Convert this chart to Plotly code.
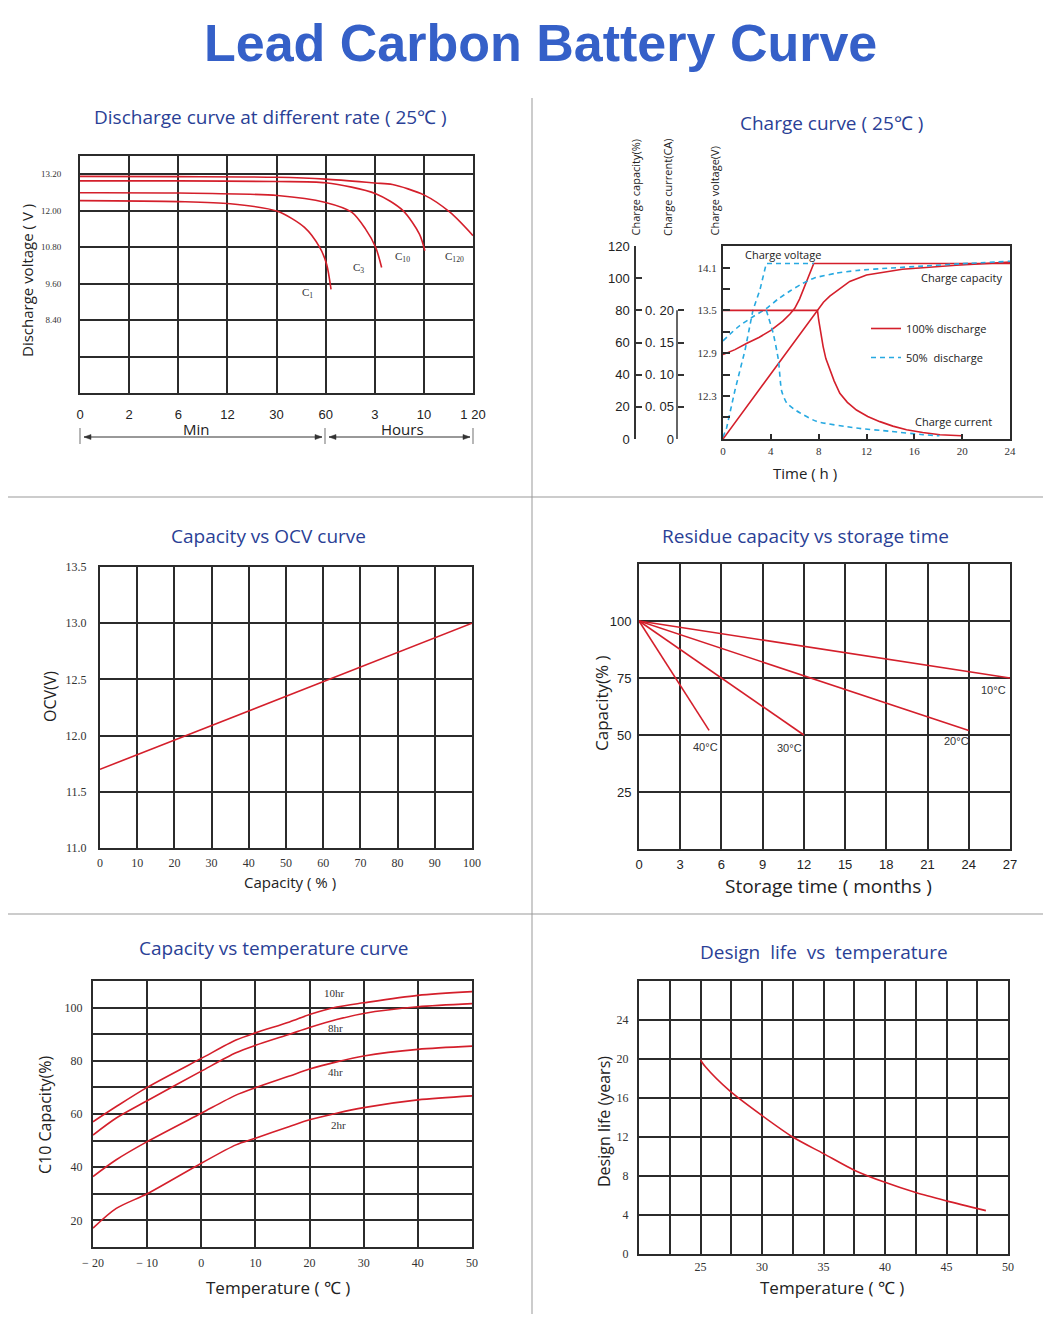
import plotly.graph_objects as go

# figure kept slightly smaller than the window; pixel positions map 1:1 from the top-left
W, H = 1044, 1315
def fx(x): return x / W
def fy(y): return 1 - y / H

RED = '#d41f2b'
BLUE = '#27a9e1'
GRID = '#2b2b2b'
NAVY = '#2a3f96'
SANS = 'Open Sans'
ARIAL = 'Liberation Sans'
SERIF = 'Liberation Serif'

# ---------------- Panel 1: discharge curves (x = category index) ----------------
p1_xlabels = ['0', '2', '6', '12', '30', '60', '3', '10', '1 20']
p1_yticks = [8.4, 9.6, 10.8, 12.0, 13.2]
p1_ylabels = ['8.40', '9.60', '10.80', '12.00', '13.20']
p1_ygrid_extra = [7.2]
c120_x = [0, 2, 4, 5, 6, 6.36, 7, 7.53, 8]
c120_y = [13.13, 13.12, 13.10, 13.04, 12.91, 12.86, 12.52, 11.95, 11.18]
c10_x = [0, 2, 4, 5, 6.02, 6.57, 6.91, 7.02]
c10_y = [12.98, 12.98, 12.96, 12.92, 12.56, 12.01, 11.23, 10.68]
c3_x = [0, 2, 4.02, 4.98, 5.53, 5.81, 6.02, 6.14]
c3_y = [12.59, 12.58, 12.50, 12.28, 11.95, 11.40, 10.79, 10.13]
c1_x = [0, 2, 3.06, 4.02, 4.57, 4.88, 5.02, 5.11]
c1_y = [12.33, 12.30, 12.23, 11.98, 11.45, 10.79, 10.24, 9.41]

# ---------------- Panel 2: charge curve ----------------
red_v_t = [0, 1, 2, 3, 4, 5, 5.6, 6.0, 6.4, 6.8, 7.2, 7.59, 24]
red_v = [12.88, 12.95, 13.04, 13.12, 13.22, 13.35, 13.45, 13.53, 13.66, 13.83, 14.0, 14.16, 14.16]
red_cap_t = [0, 7.9, 8.4, 8.93, 10.6, 12, 15, 19.5, 24]
red_cap = [0, 80, 85, 88.8, 98, 102, 105.5, 108, 110]
red_cur_t = [0, 7.9, 8.0, 8.15, 8.37, 8.6, 8.93, 9.3, 9.77, 10.4, 11.16, 12.1, 13.12, 14.2, 15.35, 16.7, 18.14, 19.95]
red_cur = [0.2, 0.2, 0.185, 0.165, 0.144, 0.125, 0.107, 0.09, 0.071, 0.057, 0.045, 0.035, 0.027, 0.02, 0.0144, 0.01, 0.0067, 0.005]
blue_v_t = [0, 0.3, 1.0, 1.84, 2.5, 3.09, 3.62, 7.6]
blue_v = [11.72, 11.85, 12.38, 12.94, 13.5, 13.79, 14.16, 14.16]
blue_cap_t = [0, 0.7, 1.4, 2.5, 3.6, 4.6, 5.6, 6.6, 7.6, 9.4, 11.2, 14, 16.7, 20, 24]
blue_cap = [61, 66, 70.5, 76, 81, 87, 92, 96.5, 100, 103, 104.8, 106.3, 107.5, 109, 110.5]
blue_cur_t = [3.62, 4.2, 4.63, 4.9, 5.33, 6.14, 7.81, 11.16, 13.95, 16.74, 18.1]
blue_cur = [0.2, 0.164, 0.123, 0.075, 0.056, 0.044, 0.0275, 0.017, 0.012, 0.0067, 0.005]
p2_xticks = [0, 4, 8, 12, 16, 20, 24]
p2_vticks = [12.3, 12.9, 13.5, 14.1]
p2_vminor = [12.0, 12.6, 13.2, 13.8]
p2_capticks = [0, 20, 40, 60, 80, 100, 120]
p2_curticks = [0, 0.05, 0.10, 0.15, 0.20]
p2_curlabels = ['0', '0. 05', '0. 10', '0. 15', '0. 20']

# ---------------- Panel 3: OCV ----------------
ocv_cap = [0, 100]
ocv_v = [11.7, 13.0]

# ---------------- Panel 4: residue capacity ----------------
r10_x, r10_y = [0, 27], [100, 75]
r20_x, r20_y = [0, 24], [100, 52]
r30_x, r30_y = [0, 12], [100, 50]
r40_x, r40_y = [0, 5.1], [100, 52]
p4_yticks = [25, 50, 75, 100]

# ---------------- Panel 5: capacity vs temperature ----------------
t5 = [-20, -15.7, -10, 0, 6.4, 10, 16.3, 20, 25, 30, 40, 50]
cap10 = [57.1, 62.8, 70, 80.9, 87.8, 90.5, 94.6, 97.4, 100.2, 101.8, 104.6, 106]
cap8 = [52.1, 58.5, 65, 76.1, 83, 85.8, 90, 92.5, 95.5, 97.8, 100.3, 101.5]
cap4 = [36.5, 42.8, 49.6, 60.3, 67.1, 69.9, 74.3, 76.9, 79.6, 81.8, 84.3, 85.5]
cap2 = [17.1, 24.5, 30, 41.5, 48.4, 50.9, 55.3, 57.8, 60.3, 62.4, 65.3, 66.8]
p5_xticks = [-20, -10, 0, 10, 20, 30, 40, 50]
p5_xlabels = ['\u2212 20', '\u2212 10', '0', '10', '20', '30', '40', '50']
p5_yticks = [20, 40, 60, 80, 100]
p5_yminor = [10, 30, 50, 70, 90, 110]

# ---------------- Panel 6: design life ----------------
t6 = [25.0, 25.4, 27.4, 30.0, 32.5, 35.0, 37.5, 40.0, 42.5, 45.0, 48.2]
life6 = [19.9, 19.2, 16.7, 14.2, 12.0, 10.3, 8.6, 7.35, 6.3, 5.45, 4.45]
p6_xticks = [25, 30, 35, 40, 45, 50]
p6_xminor = [22.5, 27.5, 32.5, 37.5, 42.5, 47.5]
p6_yticks = [0, 4, 8, 12, 16, 20, 24]

fig = go.Figure()

def line(x, y, xa, ya, color=RED, dash='solid', shape='spline', smoothing=0.7, name='', legend=False, group=None):
    fig.add_trace(go.Scatter(x=x, y=y, xaxis=xa, yaxis=ya, mode='lines',
                             line=dict(color=color, width=1.6, dash=dash, shape=shape,
                                       smoothing=smoothing if shape == 'spline' else None),
                             name=name, showlegend=legend, legendgroup=group, hoverinfo='skip'))

# panel 1
for xs, ys in [(c120_x, c120_y), (c10_x, c10_y), (c3_x, c3_y), (c1_x, c1_y)]:
    line(xs, ys, 'x', 'y', smoothing=0.8)

# panel 2
line(red_v_t, red_v, 'x2', 'y2', shape='linear', name='100% discharge', legend=True, group='a')
line(red_cap_t, red_cap, 'x2', 'y7', shape='linear', group='a')
line(red_cur_t, red_cur, 'x2', 'y8', shape='linear', group='a')
DASH = '5px,4px'
line(blue_v_t, blue_v, 'x2', 'y2', color=BLUE, dash=DASH, shape='linear', name='50%\u00a0 discharge', legend=True, group='b')
line(blue_cap_t, blue_cap, 'x2', 'y7', color=BLUE, dash=DASH, shape='spline', smoothing=0.6, group='b')
line(blue_cur_t, blue_cur, 'x2', 'y8', color=BLUE, dash=DASH, shape='spline', smoothing=0.6, group='b')

# panel 3
line(ocv_cap, ocv_v, 'x3', 'y3', shape='linear')
# panel 4
for xs, ys in [(r10_x, r10_y), (r20_x, r20_y), (r30_x, r30_y), (r40_x, r40_y)]:
    line(xs, ys, 'x4', 'y4', shape='linear')
# panel 5
for ys in [cap10, cap8, cap4, cap2]:
    line(t5, ys, 'x5', 'y5', smoothing=0.8)
# panel 6
line(t6, life6, 'x6', 'y6', smoothing=0.8)


def minor_grid(vals):
    return dict(tickmode='array', tickvals=vals, showgrid=True, gridcolor=GRID, gridwidth=1.6, ticks='')

def box_axis(**kw):
    base = dict(showline=True, mirror=True, linecolor=GRID, linewidth=2, showgrid=True,
                gridcolor=GRID, gridwidth=1.6, zeroline=False, ticks='', fixedrange=True,
                automargin=False, tickfont=dict(family=SERIF, size=12, color='#333'))
    base.update(kw)
    return base

lay = dict(width=W, height=H, margin=dict(l=0, r=0, t=0, b=0, pad=0), autosize=False,
           paper_bgcolor='white', plot_bgcolor='white',
           legend=dict(x=fx(866), y=fy(314), xanchor='left', yanchor='top', bgcolor='rgba(0,0,0,0)',
                       font=dict(family=SANS, size=11, color='#222'), traceorder='grouped',
                       tracegroupgap=10, itemwidth=30))

# panel 1 axes
lay['xaxis'] = box_axis(domain=[fx(80), fx(473)], anchor='y', range=[0, 8],
                        tickmode='array', tickvals=list(range(9)), ticktext=p1_xlabels,
                        tickfont=dict(family=ARIAL, size=13, color='#222'), ticklabelstandoff=8)
lay['yaxis'] = box_axis(domain=[fy(393), fy(156)], anchor='x', range=[6.0, 13.8],
                        tickmode='array', tickvals=p1_yticks, ticktext=p1_ylabels, ticklabelstandoff=15,
                        tickfont=dict(family=SERIF, size=9, color='#333'),
                        minor=minor_grid(p1_ygrid_extra))
# panel 2 axes
lay['xaxis2'] = box_axis(domain=[fx(723), fx(1010)], anchor='y2', range=[0, 24], showgrid=False,
                         tickmode='array', tickvals=p2_xticks, ticks='inside',
                         ticklen=5, tickcolor=GRID, tickwidth=1.5, ticklabelstandoff=1,
                         tickfont=dict(family=SERIF, size=11, color='#333'))
lay['yaxis2'] = box_axis(domain=[fy(439), fy(246)], anchor='x2', range=[11.695, 14.405], showgrid=False,
                         tickmode='array', tickvals=p2_vticks, ticks='inside',
                         ticklen=7, tickcolor=GRID, tickwidth=1.5, ticklabelstandoff=2,
                         tickfont=dict(family=SERIF, size=11, color='#333'),
                         minor=dict(tickmode='array', tickvals=p2_vminor, ticks='inside', ticklen=7,
                                    tickcolor=GRID, tickwidth=1.5, showgrid=False))
lay['yaxis7'] = dict(overlaying='y2', anchor='free', position=fx(635), side='left', range=[0, 120],
                     tickmode='array', tickvals=p2_capticks, showline=True, linecolor='#333', linewidth=1.5,
                     ticks='inside', ticklen=6, tickcolor='#333', tickwidth=1.5, showgrid=False,
                     zeroline=False, fixedrange=True, ticklabelstandoff=2, automargin=False,
                     tickfont=dict(family=ARIAL, size=13, color='#222'))
lay['yaxis8'] = dict(overlaying='y2', anchor='free', position=fx(677), side='left', range=[0, 0.3],
                     tickmode='array', tickvals=p2_curticks, ticktext=p2_curlabels, showline=False,
                     ticks='inside', ticklen=6, tickcolor='#333', tickwidth=1.5, showgrid=False,
                     zeroline=False, fixedrange=True, ticklabelstandoff=3, automargin=False,
                     tickfont=dict(family=ARIAL, size=13, color='#222'))
# panel 3
lay['xaxis3'] = box_axis(domain=[fx(100), fx(472)], anchor='y3', range=[0, 100], dtick=10, tick0=0,
                         ticklabelstandoff=3)
lay['yaxis3'] = box_axis(domain=[fy(848), fy(567)], anchor='x3', range=[11, 13.5], dtick=0.5, tick0=11,
                         tickformat='.1f', ticklabelstandoff=9)
# panel 4
lay['xaxis4'] = box_axis(domain=[fx(639), fx(1010)], anchor='y4', range=[0, 27], dtick=3, tick0=0,
                         tickfont=dict(family=ARIAL, size=13, color='#222'), ticklabelstandoff=2)
lay['yaxis4'] = box_axis(domain=[fy(849), fy(564)], anchor='x4', range=[0, 125],
                         tickmode='array', tickvals=p4_yticks,
                         tickfont=dict(family=ARIAL, size=13, color='#222'), ticklabelstandoff=3)
# panel 5
lay['xaxis5'] = box_axis(domain=[fx(93), fx(472)], anchor='y5', range=[-20, 50],
                         tickmode='array', tickvals=p5_xticks, ticktext=p5_xlabels,
                         ticklabelstandoff=4)
lay['yaxis5'] = box_axis(domain=[fy(1247), fy(981)], anchor='x5', range=[10, 110],
                         tickmode='array', tickvals=p5_yticks, ticklabelstandoff=6,
                         minor=minor_grid(p5_yminor))
# panel 6
lay['xaxis6'] = box_axis(domain=[fx(639), fx(1008)], anchor='y6', range=[20, 50],
                         tickmode='array', tickvals=p6_xticks, ticklabelstandoff=1,
                         minor=minor_grid(p6_xminor))
lay['yaxis6'] = box_axis(domain=[fy(1254), fy(981)], anchor='x6', range=[0, 28],
                         tickmode='array', tickvals=p6_yticks, ticklabelstandoff=6)

fig.update_layout(**lay)

ann = []
def text(x, y, s, size=11, family=SANS, color='#222', angle=0, xa='center', ya='middle'):
    ann.append(dict(x=fx(x), y=fy(y), xref='paper', yref='paper', text=s, showarrow=False,
                    font=dict(family=family, size=size, color=color), textangle=angle,
                    xanchor=xa, yanchor=ya))

# main title
text(540, 43, '<b>Lead Carbon Battery Curve</b>', size=52, family=ARIAL, color='#3560c8')
# panel titles
text(270, 117, 'Discharge curve at different rate ( 25\u2103 )', size=19, color=NAVY)
text(831, 123, 'Charge curve ( 25\u2103 )', size=19, color=NAVY)
text(268, 536, 'Capacity vs OCV curve', size=19, color=NAVY)
text(805, 536, 'Residue capacity vs storage time', size=19, color=NAVY)
text(273, 948, 'Capacity vs temperature curve', size=19, color=NAVY)
text(824, 952, 'Design\u00a0 life\u00a0 vs\u00a0 temperature', size=19, color=NAVY)

# panel 1 texts
text(27, 281, 'Discharge voltage ( V )', size=15, angle=-90)
text(196, 429, 'Min', size=15)
text(402, 429, 'Hours', size=15)
text(307, 293, 'C<sub>1</sub>', size=11, family=SERIF, color='#333')
text(358, 268, 'C<sub>3</sub>', size=11, family=SERIF, color='#333')
text(402, 257, 'C<sub>10</sub>', size=11, family=SERIF, color='#333')
text(454, 257, 'C<sub>120</sub>', size=11, family=SERIF, color='#333')

# panel 2 texts
text(805, 473, 'Time ( h )', size=15)
text(635, 238, 'Charge capacity(%)', size=11, angle=-90, ya='bottom')
text(667, 238, 'Charge current(CA)', size=11, angle=-90, ya='bottom')
text(714, 238, 'Charge voltage(V)', size=11, angle=-90, ya='bottom')
text(783, 254, 'Charge voltage', size=11)
text(961, 277, 'Charge capacity', size=11)
text(953, 421, 'Charge current', size=11)

# panel 3 texts
text(290, 882, 'Capacity ( % )', size=15)
text(50, 697, 'OCV(V)', size=16, angle=-90)
# panel 4 texts
text(828, 886, 'Storage time ( months )', size=19)
text(601, 703, 'Capacity(% )', size=17, angle=-90)
text(993, 690, '10\u00b0C', size=11, family=ARIAL, color='#333')
text(956, 741, '20\u00b0C', size=11, family=ARIAL, color='#333')
text(789, 748, '30\u00b0C', size=11, family=ARIAL, color='#333')
text(705, 747, '40\u00b0C', size=11, family=ARIAL, color='#333')
# panel 5 texts
text(278, 1287, 'Temperature ( \u2103 )', size=17)
text(45, 1115, 'C10 Capacity(%)', size=16, angle=-90)
text(334, 993, '10hr', size=11, family=SERIF, color='#333')
text(335, 1028, '8hr', size=11, family=SERIF, color='#333')
text(335, 1072, '4hr', size=11, family=SERIF, color='#333')
text(338, 1125, '2hr', size=11, family=SERIF, color='#333')
# panel 6 texts
text(832, 1287, 'Temperature ( \u2103 )', size=17)
text(604, 1122, 'Design life (years)', size=16, angle=-90)

fig.update_layout(annotations=ann)

shapes = []
def seg(x0, y0, x1, y1, color='#999', width=1):
    shapes.append(dict(type='line', xref='paper', yref='paper', x0=fx(x0), y0=fy(y0), x1=fx(x1), y1=fy(y1),
                       line=dict(color=color, width=width)))
def head(xtip, y, direction):
    # small filled arrow head; direction -1 points left, +1 points right
    xb = xtip - direction * 7
    path = 'M {} {} L {} {} L {} {} Z'.format(fx(xtip), fy(y), fx(xb), fy(y - 2.5), fx(xb), fy(y + 2.5))
    shapes.append(dict(type='path', xref='paper', yref='paper', path=path,
                       fillcolor='#333', line=dict(color='#333', width=0.5)))

seg(532, 98, 532, 1314)
seg(8, 497, 1043, 497)
seg(8, 914, 1043, 914)
for xv in (80, 325, 473):
    seg(xv, 428, xv, 444, color='#888', width=1.2)
# Min / Hours double arrows
for x0, x1 in [(84, 322), (329, 470)]:
    seg(x0, 437, x1, 437, color='#333', width=1)
    head(x0, 437, -1)
    head(x1, 437, 1)
# charge current axis line (0 to 0.20 only)
shapes.append(dict(type='line', xref='paper', yref='y8', x0=fx(677), x1=fx(677), y0=0, y1=0.2,
                   line=dict(color='#333', width=1.5)))
fig.update_layout(shapes=shapes)

fig.write_html('out.html')
